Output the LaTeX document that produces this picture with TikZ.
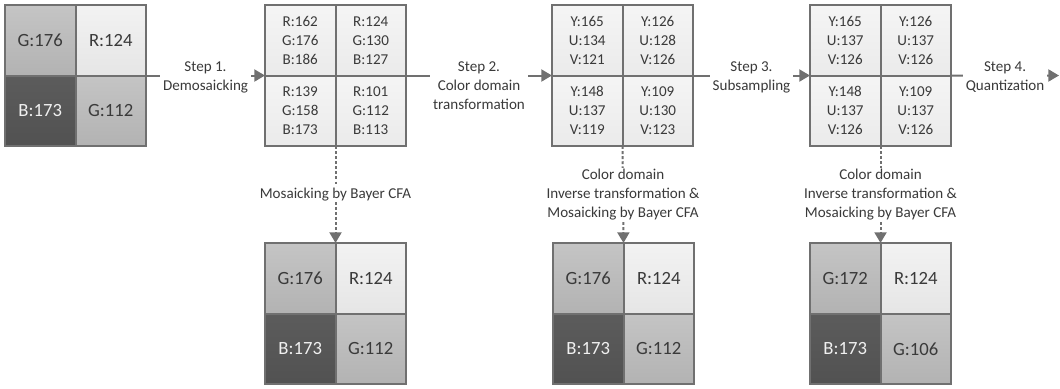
\documentclass[tikz,border=0pt]{standalone}
\usepackage{fontspec}
\setmainfont{Carlito}
\usepackage{tikz}
\usetikzlibrary{arrows.meta,positioning}

\definecolor{edgegray}{HTML}{707070}
\definecolor{txtgray}{HTML}{3A3A3A}

\begin{document}
\begin{tikzpicture}[x=0.75pt, y=0.75pt,
  cell/.style={draw=edgegray, line width=1.5pt, outer sep=0pt, minimum size=52.9pt, inner sep=0pt, text=txtgray},
  gcell/.style={cell, top color=black!23, bottom color=black!30, font=\fontsize{14}{17}\selectfont},
  rcell/.style={cell, top color=black!5, bottom color=black!10, font=\fontsize{14}{17}\selectfont},
  bcell/.style={cell, top color=black!64, bottom color=black!68, text=black!6, font=\fontsize{14}{17}\selectfont},
  vcell/.style={cell, top color=black!4, bottom color=black!8, align=center, font=\fontsize{11.3}{14.3}\selectfont},
  flow/.style={draw=edgegray, line width=1.5pt, -{Triangle[length=8pt, width=9pt]}},
  mosaic/.style={flow, dash pattern=on 2.2pt off 1.6pt},
  steplabel/.style={fill=white, inner sep=2pt, align=center, anchor=north, yshift=13.3pt, text=txtgray, font=\fontsize{11.3}{14.3}\selectfont},
  downlabel/.style={fill=white, inner sep=1pt, align=center, text=txtgray, font=\fontsize{11.3}{14.3}\selectfont}]

\useasboundingbox (0,0) rectangle (1060,-389);

% Bayer raw pattern
\node[gcell] at (40.25,-40.25) (raw1) {G:176};
\node[rcell, right=0pt of raw1] (raw2) {R:124};
\node[bcell, below=0pt of raw1] (raw3) {B:173};
\node[gcell, right=0pt of raw3] (raw4) {G:112};

% After demosaicking (RGB)
\node[vcell] at (300.25,-40.25) (rgb1) {R:162\\G:176\\B:186};
\node[vcell, right=0pt of rgb1] (rgb2) {R:124\\G:130\\B:127};
\node[vcell, below=0pt of rgb1] (rgb3) {R:139\\G:158\\B:173};
\node[vcell, right=0pt of rgb3] (rgb4) {R:101\\G:112\\B:113};

% After color domain transformation (YUV)
\node[vcell] at (587.25,-40.25) (yuv1) {Y:165\\U:134\\V:121};
\node[vcell, right=0pt of yuv1] (yuv2) {Y:126\\U:128\\V:126};
\node[vcell, below=0pt of yuv1] (yuv3) {Y:148\\U:137\\V:119};
\node[vcell, right=0pt of yuv3] (yuv4) {Y:109\\U:130\\V:123};

% After subsampling
\node[vcell] at (845.25,-40.25) (sub1) {Y:165\\U:137\\V:126};
\node[vcell, right=0pt of sub1] (sub2) {Y:126\\U:137\\V:126};
\node[vcell, below=0pt of sub1] (sub3) {Y:148\\U:137\\V:126};
\node[vcell, right=0pt of sub3] (sub4) {Y:109\\U:137\\V:126};

% Mosaicked back (bottom row)
\node[gcell] at (300.25,-278.25) (bay1) {G:176};
\node[rcell, right=0pt of bay1] (bay2) {R:124};
\node[bcell, below=0pt of bay1] (bay3) {B:173};
\node[gcell, right=0pt of bay3] (bay4) {G:112};

\node[gcell] at (588.25,-278.25) (inv1) {G:176};
\node[rcell, right=0pt of inv1] (inv2) {R:124};
\node[bcell, below=0pt of inv1] (inv3) {B:173};
\node[gcell, right=0pt of inv3] (inv4) {G:112};

\node[gcell] at (845.25,-278.25) (rec1) {G:172};
\node[rcell, right=0pt of rec1] (rec2) {R:124};
\node[bcell, below=0pt of rec1] (rec3) {B:173};
\node[gcell, right=0pt of rec3] (rec4) {G:106};

\coordinate (out) at (1059,-75.5);

% Steps
\draw[flow] (raw2.south east) -- node[steplabel] {Step 1.\\Demosaicking} (rgb1.south west);
\draw[flow] (rgb2.south east) -- node[steplabel] {Step 2.\\Color domain\\transformation} (yuv1.south west);
\draw[flow] (yuv2.south east) -- node[steplabel] {Step 3.\\Subsampling} (sub1.south west);
\draw[flow] (sub2.south east) -- node[steplabel] {Step 4.\\Quantization} (out);

% Back to Bayer pattern
\draw[mosaic] (rgb3.south east) -- node[downlabel] {Mosaicking by Bayer CFA} (bay1.north east);
\draw[mosaic] (yuv3.south east) -- node[downlabel] {Color domain\\Inverse transformation \&\\Mosaicking by Bayer CFA} (inv1.north east);
\draw[mosaic] (sub3.south east) -- node[downlabel] {Color domain\\Inverse transformation \&\\Mosaicking by Bayer CFA} (rec1.north east);
\end{tikzpicture}
\end{document}
